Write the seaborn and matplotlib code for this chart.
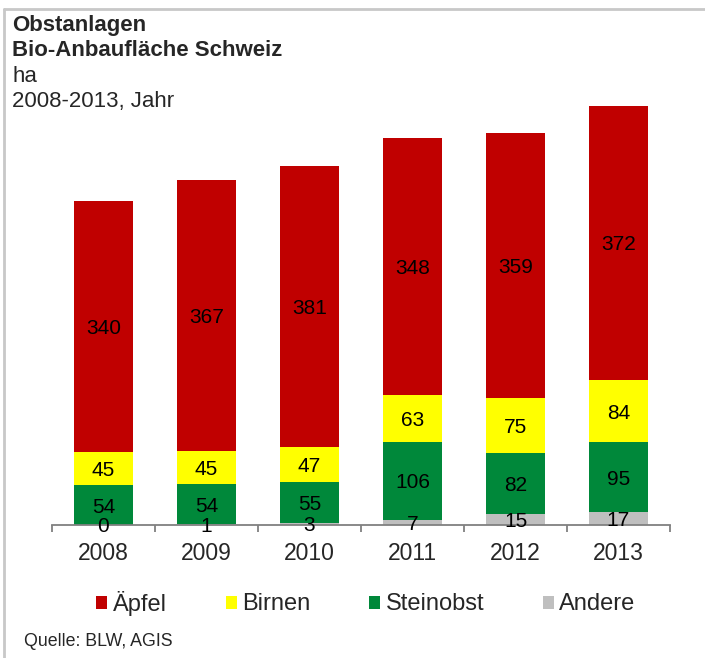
import matplotlib
matplotlib.use("Agg")
import matplotlib.pyplot as plt
from matplotlib.patches import Patch
from matplotlib.lines import Line2D
import seaborn as sns
import numpy as np

years = ["2008", "2009", "2010", "2011", "2012", "2013"]
andere = [0, 1, 3, 7, 15, 17]
steinobst = [54, 54, 55, 106, 82, 95]
birnen = [45, 45, 47, 63, 75, 84]
aepfel = [340, 367, 381, 348, 359, 372]
series_names = ["Äpfel", "Birnen", "Steinobst", "Andere"]
colors = {"Äpfel": "#C00000", "Birnen": "#FFFF00", "Steinobst": "#00883A", "Andere": "#BFBFBF"}

sns.set_theme(style="white")
plt.rcParams["font.family"] = ["Liberation Sans", "DejaVu Sans"]

W, H = 705, 658
fig = plt.figure(figsize=(W / 100, H / 100), dpi=100)
ax = fig.add_axes([52 / W, 1 - 525 / H, (670 - 52) / W, (525 - 82) / H])

# stacking order bottom -> top: Andere, Steinobst, Birnen, Äpfel
stack = [("Andere", andere), ("Steinobst", steinobst), ("Birnen", birnen), ("Äpfel", aepfel)]
cums = []
run = np.zeros(len(years))
for name, vals in stack:
    bottom = run.copy()
    run = run + np.array(vals)
    cums.append((name, vals, bottom, run.copy()))

# draw from top (largest cumulative) down so smaller ones overlay
for name, vals, bottom, top in reversed(cums):
    sns.barplot(x=years, y=top, color=colors[name], saturation=1, width=0.565, ax=ax, linewidth=0)

for name, vals, bottom, top in cums:
    for i, v in enumerate(vals):
        ax.text(i, bottom[i] + v / 2, str(v), ha="center", va="center_baseline", fontsize=15, color="black")

ax.set_ylim(0, 600)
ax.set_xlim(-0.5, len(years) - 0.5)
ax.set_yticks([])
ax.set_ylabel("")
ax.set_xlabel("")
for s in ["top", "right", "left"]:
    ax.spines[s].set_visible(False)
ax.spines["bottom"].set_color("#808080")
ax.spines["bottom"].set_linewidth(1.3)
ax.set_xticks(np.arange(len(years)))
ax.set_xticklabels(years, fontsize=16.5)
ax.tick_params(axis="x", which="major", length=0, pad=12)
ax.set_xticks(np.arange(-0.5, len(years)), minor=True)
ax.tick_params(axis="x", which="minor", length=5, width=1.3, color="#808080", direction="out", bottom=True)
ax.set_facecolor("none")

handles = [Patch(facecolor=colors[n], edgecolor="none") for n in series_names]
fig.legend(handles, series_names, loc="center", bbox_to_anchor=(366 / W, 1 - 603 / H), ncol=4,
           frameon=False, fontsize=17, handlelength=0.47, handleheight=0.47, handletextpad=0.22,
           columnspacing=2.5)

# titles
fig.text(12 / W, 1 - 26 / H, "Obstanlagen", fontsize=16, fontweight="bold", va="center", ha="left")
fig.text(12 / W, 1 - 51 / H, "Bio-Anbaufläche Schweiz", fontsize=16, fontweight="bold", va="center", ha="left")
fig.text(12 / W, 1 - 77 / H, "ha", fontsize=16, va="center", ha="left")
fig.text(12 / W, 1 - 102 / H, "2008-2013, Jahr", fontsize=16, va="center", ha="left")
fig.text(24 / W, 1 - 642 / H, "Quelle: BLW, AGIS", fontsize=12.8, va="center", ha="left")

# frame lines (top and left)
fig.add_artist(Line2D([4 / W, 1], [1 - 9 / H, 1 - 9 / H], transform=fig.transFigure, color="#C8C8C8", lw=2))
fig.add_artist(Line2D([4 / W, 4 / W], [0, 1 - 9 / H], transform=fig.transFigure, color="#C8C8C8", lw=2))

fig.savefig("out.png", dpi=100)
